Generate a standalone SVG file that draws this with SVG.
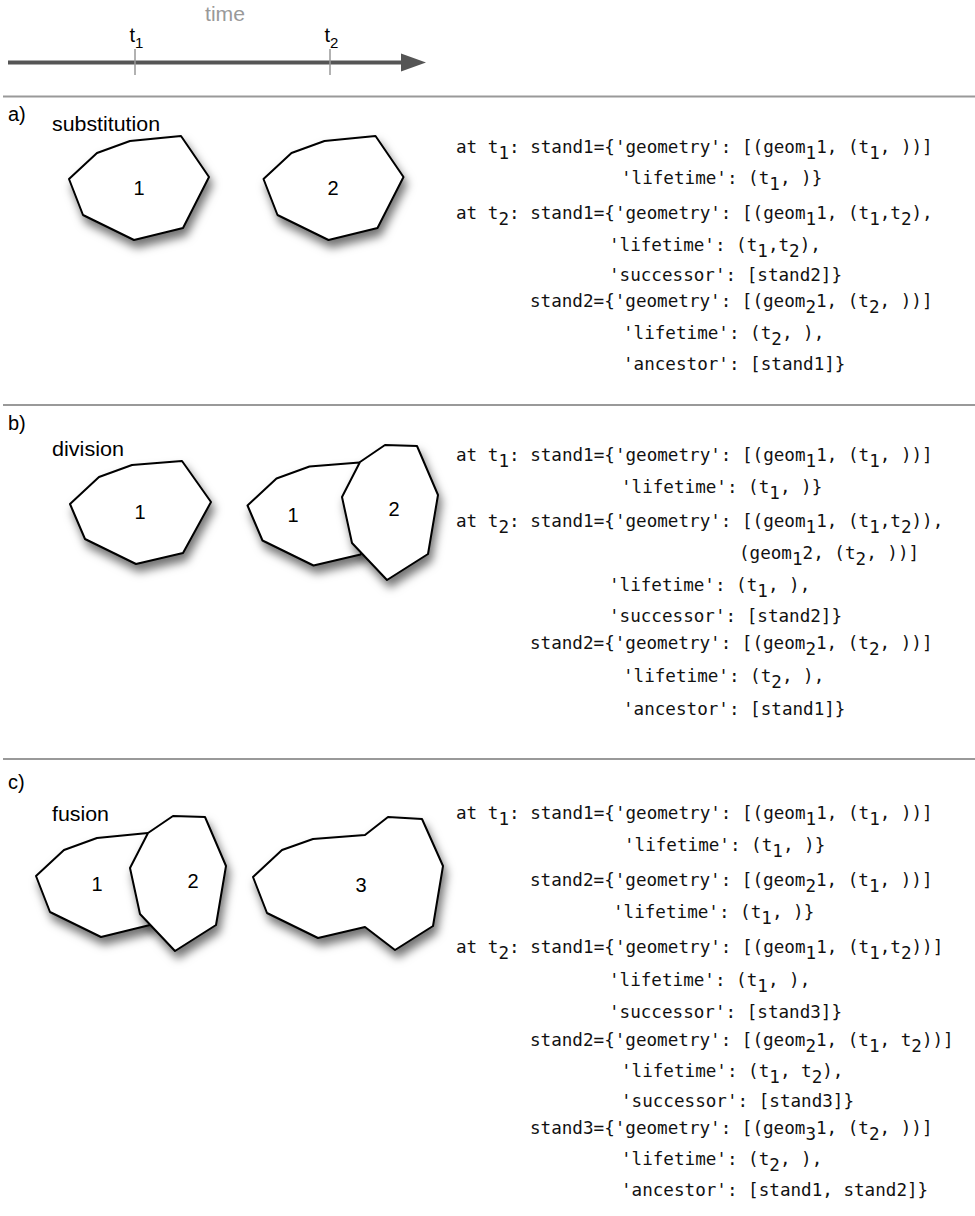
<svg xmlns="http://www.w3.org/2000/svg" width="975" height="1216" viewBox="0 0 975 1216">
  <style>
    .lbl { font-family: "Liberation Sans", Arial, sans-serif; font-size: 20px; fill: #000; }
    .num { font-family: "Liberation Sans", Arial, sans-serif; font-size: 20px; fill: #000; text-anchor: middle; }
    .code { font-family: "DejaVu Sans Mono", "Liberation Mono", monospace; font-size: 17.6px; fill: #111; white-space: pre; }
    .poly { fill: #fff; stroke: #000; stroke-width: 2; stroke-linejoin: round; filter: url(#shadow); }
    .sep { stroke: #999; stroke-width: 2; }
    .tick { stroke: #999; stroke-width: 1.5; }
  </style>
  <defs>
    <filter id="shadow" x="-25%" y="-25%" width="160%" height="170%">
      <feDropShadow dx="3" dy="7" stdDeviation="5" flood-color="#000" flood-opacity="0.55"/>
    </filter>
  </defs>
  <rect width="975" height="1216" fill="#fff"/>

  <!-- time axis -->
  <g id="timeline">
    <text class="lbl" x="205" y="21" style="fill:#999" textLength="40" lengthAdjust="spacingAndGlyphs">time</text>
    <line x1="8" y1="62.5" x2="404" y2="62.5" stroke="#555" stroke-width="4"/>
    <polygon points="401,53.5 426,62.5 401,71.5" fill="#555"/>
    <line class="tick" x1="135" y1="49" x2="135" y2="75"/>
    <line class="tick" x1="330" y1="49" x2="330" y2="75"/>
    <text class="lbl" x="129.5" y="42">t<tspan font-size="15" dy="6">1</tspan></text>
    <text class="lbl" x="324.5" y="42">t<tspan font-size="15" dy="6">2</tspan></text>
  </g>

  <!-- section separators -->
  <g id="separators">
    <line class="sep" x1="3" y1="96.5" x2="975" y2="96.5"/>
    <line class="sep" x1="3" y1="405" x2="975" y2="405"/>
    <line class="sep" x1="3" y1="759" x2="975" y2="759"/>
  </g>

  <!-- a) substitution -->
  <g id="section-a">
    <text class="lbl" x="8" y="121">a)</text>
    <text class="lbl" x="52" y="130.5" textLength="108" lengthAdjust="spacingAndGlyphs">substitution</text>
  </g>
  <g id="a-stand1">
    <polygon class="poly" points="69,179 97,153 130,141 181,136 209,177 183,228 134,240 83,215"/>
    <text class="num" x="139" y="195">1</text>
  </g>
  <g id="a-stand2">
    <polygon class="poly" points="263.5,179 291.5,153 324.5,141 375.5,136 403.5,177 377.5,228 328.5,240 277.5,215"/>
    <text class="num" x="333" y="195">2</text>
  </g>
  <g id="a-code" class="code" xml:space="preserve">
    <text x="456" y="153">at t<tspan dy="6">1</tspan><tspan dy="-6">: stand1={'geometry': [(geom</tspan><tspan dy="6">1</tspan><tspan dy="-6">1, (t</tspan><tspan dy="6">1</tspan><tspan dy="-6">, ))]</tspan></text>
    <text x="621" y="184">'lifetime': (t<tspan dy="6">1</tspan><tspan dy="-6">, )}</tspan></text>
    <text x="456" y="219">at t<tspan dy="6">2</tspan><tspan dy="-6">: stand1={'geometry': [(geom</tspan><tspan dy="6">1</tspan><tspan dy="-6">1, (t</tspan><tspan dy="6">1</tspan><tspan dy="-6">,t</tspan><tspan dy="6">2</tspan><tspan dy="-6">),</tspan></text>
    <text x="609" y="251">'lifetime': (t<tspan dy="6">1</tspan><tspan dy="-6">,t</tspan><tspan dy="6">2</tspan><tspan dy="-6">),</tspan></text>
    <text x="609" y="281">'successor': [stand2]}</text>
    <text x="530" y="307">stand2={'geometry': [(geom<tspan dy="6">2</tspan><tspan dy="-6">1, (t</tspan><tspan dy="6">2</tspan><tspan dy="-6">, ))]</tspan></text>
    <text x="623" y="339">'lifetime': (t<tspan dy="6">2</tspan><tspan dy="-6">, ),</tspan></text>
    <text x="623" y="370">'ancestor': [stand1]}</text>
  </g>

  <!-- b) division -->
  <g id="section-b">
    <text class="lbl" x="8" y="430">b)</text>
    <text class="lbl" x="52" y="455.5" textLength="72" lengthAdjust="spacingAndGlyphs">division</text>
  </g>
  <g id="b-stand1-t1">
    <polygon class="poly" points="70,504 99,477 132,465 182,461 211,502 183,553 136,564 85,539"/>
    <text class="num" x="140" y="519">1</text>
  </g>
  <g id="b-stand1-t2">
    <polygon class="poly" points="247.5,505.5 276.5,478.5 309.5,466.5 359.5,462.5 388.5,503.5 360.5,554.5 313.5,565.5 262.5,540.5"/>
    <text class="num" x="293" y="522">1</text>
  </g>
  <g id="b-stand2-t2">
    <polygon class="poly" points="360,462 385,445 417,446 438,495 428,554 387,580 352,543 342,497"/>
    <text class="num" x="394" y="516">2</text>
  </g>
  <g id="b-code" class="code" xml:space="preserve">
    <text x="456" y="461">at t<tspan dy="6">1</tspan><tspan dy="-6">: stand1={'geometry': [(geom</tspan><tspan dy="6">1</tspan><tspan dy="-6">1, (t</tspan><tspan dy="6">1</tspan><tspan dy="-6">, ))]</tspan></text>
    <text x="621" y="493">'lifetime': (t<tspan dy="6">1</tspan><tspan dy="-6">, )}</tspan></text>
    <text x="456" y="527">at t<tspan dy="6">2</tspan><tspan dy="-6">: stand1={'geometry': [(geom</tspan><tspan dy="6">1</tspan><tspan dy="-6">1, (t</tspan><tspan dy="6">1</tspan><tspan dy="-6">,t</tspan><tspan dy="6">2</tspan><tspan dy="-6">)),</tspan></text>
    <text x="739" y="559">(geom<tspan dy="6">1</tspan><tspan dy="-6">2, (t</tspan><tspan dy="6">2</tspan><tspan dy="-6">, ))]</tspan></text>
    <text x="609" y="591">'lifetime': (t<tspan dy="6">1</tspan><tspan dy="-6">, ),</tspan></text>
    <text x="609" y="622">'successor': [stand2]}</text>
    <text x="530" y="649">stand2={'geometry': [(geom<tspan dy="6">2</tspan><tspan dy="-6">1, (t</tspan><tspan dy="6">2</tspan><tspan dy="-6">, ))]</tspan></text>
    <text x="623" y="682">'lifetime': (t<tspan dy="6">2</tspan><tspan dy="-6">, ),</tspan></text>
    <text x="623" y="715">'ancestor': [stand1]}</text>
  </g>

  <!-- c) fusion -->
  <g id="section-c">
    <text class="lbl" x="8" y="789">c)</text>
    <text class="lbl" x="52" y="820.5" textLength="57" lengthAdjust="spacingAndGlyphs">fusion</text>
  </g>
  <g id="c-stand1-t1">
    <polygon class="poly" points="36,876 64,850 97,838 148,833 176,874 150,925 101,937 50,912"/>
    <text class="num" x="97" y="891">1</text>
  </g>
  <g id="c-stand2-t1">
    <polygon class="poly" points="148,833 173,816 205,817 226,866 216,925 175,951 140,914 130,868"/>
    <text class="num" x="193" y="888">2</text>
  </g>
  <g id="c-stand3-t2">
    <polygon class="poly" points="253,877 282,850 313,839 365,835 388,817 422,819 443,866 433,926 395,950 365,927 318,938 267,913"/>
    <text class="num" x="361" y="892">3</text>
  </g>
  <g id="c-code" class="code" xml:space="preserve">
    <text x="456" y="819">at t<tspan dy="6">1</tspan><tspan dy="-6">: stand1={'geometry': [(geom</tspan><tspan dy="6">1</tspan><tspan dy="-6">1, (t</tspan><tspan dy="6">1</tspan><tspan dy="-6">, ))]</tspan></text>
    <text x="624" y="851">'lifetime': (t<tspan dy="6">1</tspan><tspan dy="-6">, )}</tspan></text>
    <text x="530" y="886">stand2={'geometry': [(geom<tspan dy="6">2</tspan><tspan dy="-6">1, (t</tspan><tspan dy="6">1</tspan><tspan dy="-6">, ))]</tspan></text>
    <text x="613" y="918">'lifetime': (t<tspan dy="6">1</tspan><tspan dy="-6">, )}</tspan></text>
    <text x="456" y="953">at t<tspan dy="6">2</tspan><tspan dy="-6">: stand1={'geometry': [(geom</tspan><tspan dy="6">1</tspan><tspan dy="-6">1, (t</tspan><tspan dy="6">1</tspan><tspan dy="-6">,t</tspan><tspan dy="6">2</tspan><tspan dy="-6">))]</tspan></text>
    <text x="609" y="986">'lifetime': (t<tspan dy="6">1</tspan><tspan dy="-6">, ),</tspan></text>
    <text x="609" y="1018">'successor': [stand3]}</text>
    <text x="530" y="1046">stand2={'geometry': [(geom<tspan dy="6">2</tspan><tspan dy="-6">1, (t</tspan><tspan dy="6">1</tspan><tspan dy="-6">, t</tspan><tspan dy="6">2</tspan><tspan dy="-6">))]</tspan></text>
    <text x="621" y="1077">'lifetime': (t<tspan dy="6">1</tspan><tspan dy="-6">, t</tspan><tspan dy="6">2</tspan><tspan dy="-6">),</tspan></text>
    <text x="621" y="1107">'successor': [stand3]}</text>
    <text x="530" y="1134">stand3={'geometry': [(geom<tspan dy="6">3</tspan><tspan dy="-6">1, (t</tspan><tspan dy="6">2</tspan><tspan dy="-6">, ))]</tspan></text>
    <text x="621" y="1165">'lifetime': (t<tspan dy="6">2</tspan><tspan dy="-6">, ),</tspan></text>
    <text x="621" y="1196">'ancestor': [stand1, stand2]}</text>
  </g>
</svg>
